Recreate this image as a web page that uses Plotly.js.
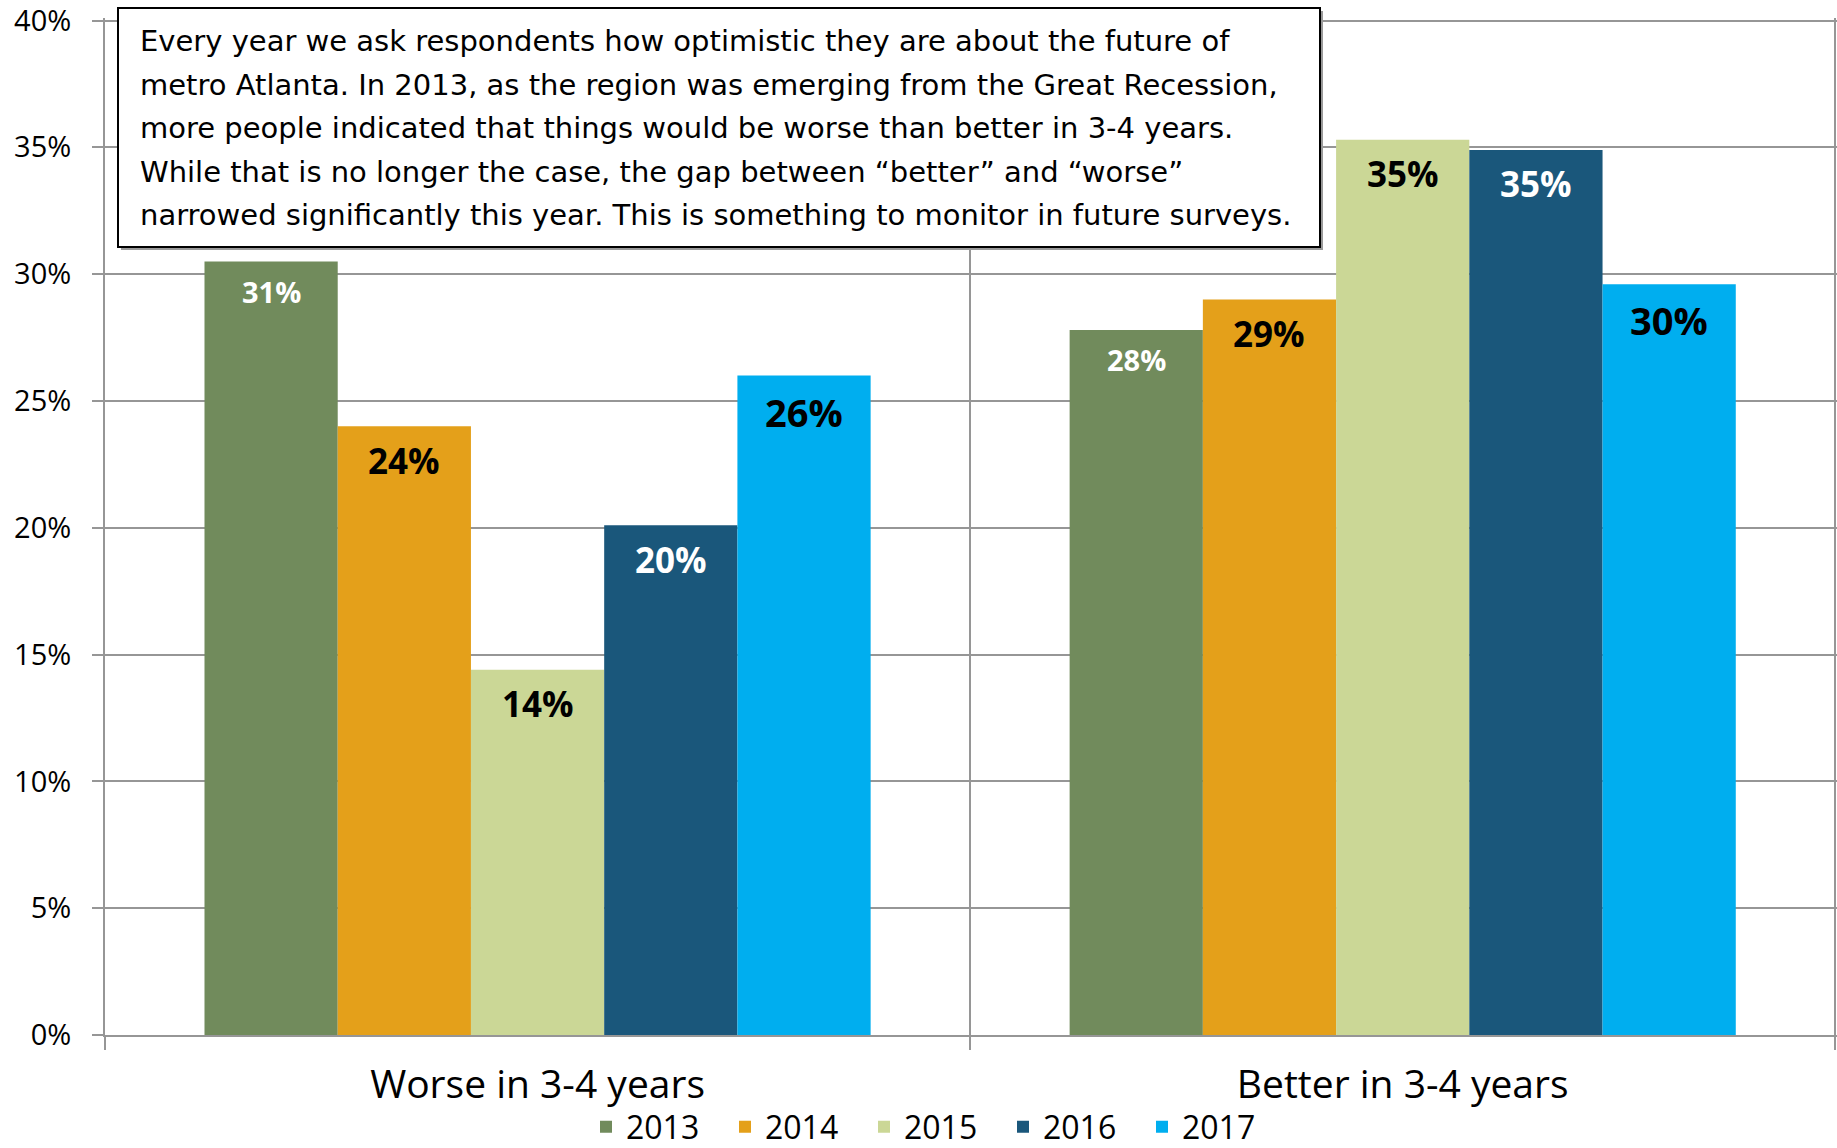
<!DOCTYPE html>
<html>
<head>
<meta charset="utf-8">
<script src="https://cdn.plot.ly/plotly-3.0.1.min.js"></script>
<style>
  html, body { margin: 0; padding: 0; background: #ffffff; }
  #chart { width: 1837px; height: 1148px; }
</style>
</head>
<body>
<div id="chart"></div>
<script>
// ---- Data ----
const categories = ["Worse in 3-4 years", "Better in 3-4 years"];
const years = ["2013", "2014", "2015", "2016", "2017"];
const values2013 = [30.5, 27.8];
const values2014 = [24.0, 29.0];
const values2015 = [14.4, 35.3];
const values2016 = [20.1, 34.9];
const values2017 = [26.0, 29.6];
const labels2013 = ["31%", "28%"];
const labels2014 = ["24%", "29%"];
const labels2015 = ["14%", "35%"];
const labels2016 = ["20%", "35%"];
const labels2017 = ["26%", "30%"];
const yTickVals = [0, 5, 10, 15, 20, 25, 30, 35, 40];
const yTickText = ["0%", "5%", "10%", "15%", "20%", "25%", "30%", "35%", "40%"];
const noteLines = [
  "Every year we ask respondents how optimistic they are about the future of",
  "metro Atlanta. In 2013, as the region was emerging from the Great Recession,",
  "more people indicated that things would be worse than better in 3-4 years.",
  "While that is no longer the case, the gap between \u201cbetter\u201d and \u201cworse\u201d",
  "narrowed significantly this year. This is something to monitor in future surveys."
];

// ---- Styles ----
const seriesValues = [values2013, values2014, values2015, values2016, values2017];
const seriesLabels = [labels2013, labels2014, labels2015, labels2016, labels2017];
const colors = ["#718b5c", "#e4a01a", "#cbd796", "#1a577b", "#00aeef"];
const labelColors = ["#ffffff", "#000000", "#000000", "#ffffff", "#000000"];
const labelSizes = [29, 35, 35, 35, 38];
const labelDrop = [30, 34, 34, 34, 36];
const FONT = "Open Sans, Noto Sans, Arial, sans-serif";
const NOTE_FONT = "DejaVu Sans, Open Sans, sans-serif";
const BARGAP = 0.23;

const traces = years.map((yr, i) => ({
  type: "bar",
  name: yr,
  x: categories,
  y: seriesValues[i],
  marker: { color: colors[i], line: { width: 0 } },
  hoverinfo: "skip"
}));

// bar value labels positioned on the category axis scale (inside end)
const nS = years.length;
const barW = (1 - BARGAP) / nS;
const annotations = [];
seriesValues.forEach((vals, i) => {
  vals.forEach((v, j) => {
    annotations.push({
      xref: "x", yref: "y",
      x: j + (i - (nS - 1) / 2) * barW,
      y: v,
      yshift: -labelDrop[i],
      text: "<b>" + seriesLabels[i][j] + "</b>",
      showarrow: false,
      xanchor: "center", yanchor: "middle",
      font: { family: FONT, size: labelSizes[i], color: labelColors[i] }
    });
  });
});

// note box text lines (paper coords)
const plotTop = 18, plotBottom = 1035, plotL = 105, plotR = 1837;
const plotH = plotBottom - plotTop, plotW = plotR - plotL;
const px = (x) => (x - plotL) / plotW;
const py = (y) => (plotBottom - y) / plotH;
const noteLineY = [41, 84.5, 128, 171.5, 215];
noteLines.forEach((t, k) => {
  annotations.push({
    xref: "paper", yref: "paper",
    x: px(138), y: py(noteLineY[k]),
    xanchor: "left", yanchor: "middle",
    text: t, showarrow: false,
    font: { family: NOTE_FONT, size: 29, color: "#000000" }
  });
});

const shapes = [
  { type: "rect", xref: "paper", yref: "paper", layer: "above",
    x0: px(121), x1: px(1323), y0: py(250), y1: py(11),
    fillcolor: "#9a9a9a", line: { width: 0 } },
  { type: "rect", xref: "paper", yref: "paper", layer: "above",
    x0: px(118), x1: px(1320), y0: py(247), y1: py(8),
    fillcolor: "#ffffff", line: { color: "#000000", width: 2 } }
];

const layout = {
  width: 1837, height: 1148,
  margin: { l: plotL, r: 1837 - plotR, t: plotTop, b: 1148 - plotBottom, pad: 0, autoexpand: false },
  paper_bgcolor: "#ffffff", plot_bgcolor: "#ffffff",
  font: { family: FONT, color: "#000000" },
  barmode: "group",
  bargap: BARGAP,
  bargroupgap: 0,
  showlegend: true,
  legend: {
    orientation: "h",
    x: px(586), xanchor: "left",
    y: py(1127), yanchor: "middle",
    font: { family: FONT, size: 32, color: "#000000" },
    itemwidth: 30,
    entrywidth: 94, entrywidthmode: "pixels",
    traceorder: "normal",
    bgcolor: "rgba(0,0,0,0)"
  },
  xaxis: {
    type: "category",
    range: [-0.5, 1.502],
    tickson: "boundaries",
    showgrid: true, gridcolor: "#969696", gridwidth: 2,
    showline: true, linecolor: "#969696", linewidth: 2,
    ticks: "outside", ticklen: 13, tickwidth: 2, tickcolor: "#969696",
    tickfont: { family: FONT, size: 39, color: "#000000" },
    ticklabelstandoff: 14,
    automargin: false,
    fixedrange: true
  },
  yaxis: {
    range: [0, 40.1],
    tickvals: yTickVals,
    ticktext: yTickText,
    ticklabeloverflow: "allow",
    showgrid: true, gridcolor: "#969696", gridwidth: 2,
    showline: true, linecolor: "#969696", linewidth: 2,
    zeroline: false,
    ticks: "outside", ticklen: 11, tickwidth: 2, tickcolor: "#969696",
    tickfont: { family: FONT, size: 29, color: "#000000" },
    ticklabelstandoff: 15,
    automargin: false,
    fixedrange: true
  },
  annotations: annotations,
  shapes: shapes
};

Plotly.newPlot("chart", traces, layout, { displayModeBar: false, staticPlot: true });
</script>
</body>
</html>
